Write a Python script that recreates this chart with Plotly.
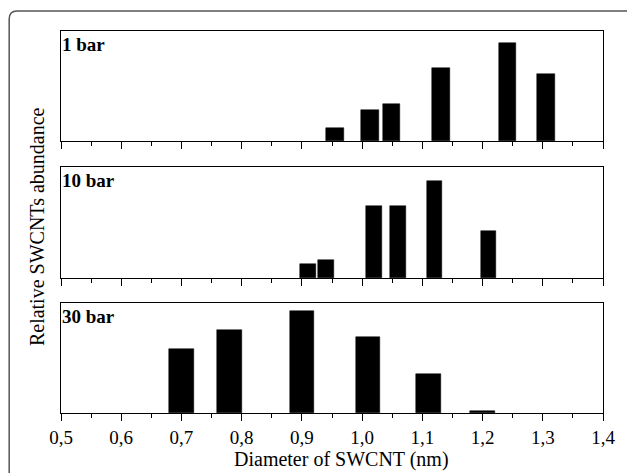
import plotly.graph_objects as go

# Diameter (nm) and relative abundance for each synthesis pressure
d_1bar = [0.955, 1.013, 1.049, 1.131, 1.241, 1.305]
a_1bar = [0.115, 0.285, 0.339, 0.667, 0.894, 0.612]

d_10bar = [0.910, 0.940, 1.020, 1.060, 1.120, 1.210]
a_10bar = [0.126, 0.159, 0.652, 0.652, 0.877, 0.426]

d_30bar = [0.700, 0.780, 0.900, 1.010, 1.110, 1.200]
a_30bar = [0.579, 0.752, 0.930, 0.691, 0.355, 0.015]

panel_labels = ["1 bar", "10 bar", "30 bar"]
x_title = "Diameter of SWCNT (nm)"
y_title = "Relative SWCNTs abundance"

SERIF = "'Liberation Serif', 'Times New Roman', Times, serif"

W, H = 627, 473
ML, MR, MT, MB = 61, 22, 31, 60
PW = W - ML - MR
PH = H - MT - MB

def py(px):
    """pixel row -> paper y"""
    return (H - MB - px) / PH

def pxx(px):
    """pixel column -> paper x"""
    return (px - ML) / PW

domains = [
    [py(141), 1.0],
    [py(278), py(167)],
    [0.0, py(303)],
]

fig = go.Figure()
series = [(d_1bar, a_1bar, 0.029), (d_10bar, a_10bar, 0.026), (d_30bar, a_30bar, 0.041)]
for i, (d, a, w) in enumerate(series, start=1):
    fig.add_trace(go.Bar(
        x=d, y=a, width=w,
        marker=dict(color="black", line=dict(color="black", width=0.5)),
        xaxis=f"x{i}" if i > 1 else "x",
        yaxis=f"y{i}" if i > 1 else "y",
        showlegend=False,
    ))

axis_common = dict(
    range=[0.5, 1.4],
    tick0=0.5, dtick=0.1,
    ticks="outside", ticklen=7, tickwidth=1, tickcolor="black",
    minor=dict(ticks="outside", ticklen=4, tickwidth=1, tickcolor="black", dtick=0.05),
    showline=True, linecolor="black", linewidth=1, mirror=True,
    showgrid=False, zeroline=False,
    tickformat=".1f",
    tickfont=dict(family=SERIF, size=19, color="black"),
)
yaxis_common = dict(
    range=[0, 1],
    showticklabels=False, ticks="",
    showline=True, linecolor="black", linewidth=1, mirror=True,
    showgrid=False, zeroline=False,
)

layout = dict(
    width=W, height=H,
    margin=dict(l=ML, r=MR, t=MT, b=MB),
    paper_bgcolor="white", plot_bgcolor="white",
    separators=",.",
    bargap=0,
    font=dict(family=SERIF, color="black"),
)
for i in range(1, 4):
    xs = "" if i == 1 else str(i)
    xa = dict(axis_common, anchor=f"y{xs}", showticklabels=(i == 3))
    if i > 1:
        xa["matches"] = "x"
    ya = dict(yaxis_common, domain=domains[i - 1], anchor=f"x{xs}")
    layout[f"xaxis{xs}"] = xa
    layout[f"yaxis{xs}"] = ya

fig.update_layout(**layout)

annotations = []
for i, lab in enumerate(panel_labels, start=1):
    xs = "" if i == 1 else str(i)
    annotations.append(dict(
        text=f"<b>{lab}</b>", xref=f"x{xs} domain", yref=f"y{xs} domain",
        x=0.0, y=1.0, xanchor="left", yanchor="top", xshift=-1, yshift=-1,
        showarrow=False, font=dict(family=SERIF, size=19, color="black"),
    ))
annotations.append(dict(
    text=x_title, xref="paper", yref="paper", x=pxx(343), y=py(459),
    xanchor="center", yanchor="middle", showarrow=False,
    font=dict(family=SERIF, size=20, color="black"),
))
annotations.append(dict(
    text=y_title, xref="paper", yref="paper", x=pxx(37), y=py(227),
    xanchor="center", yanchor="middle", textangle=-90, showarrow=False,
    font=dict(family=SERIF, size=20, color="black"),
))
fig.update_layout(annotations=annotations)

# Rounded frame around the figure (open to the right and bottom)
x0, y0 = pxx(9), py(11)
rx, ry = 8 / PW, 8 / PH
frame = (f"M {x0},{py(480)} L {x0},{y0 - ry} "
         f"Q {x0},{y0} {x0 + rx},{y0} L {pxx(640)},{y0}")
fig.add_shape(type="path", path=frame, xref="paper", yref="paper",
              line=dict(color="#555555", width=1.5), layer="above")

fig.write_html("out.html")
